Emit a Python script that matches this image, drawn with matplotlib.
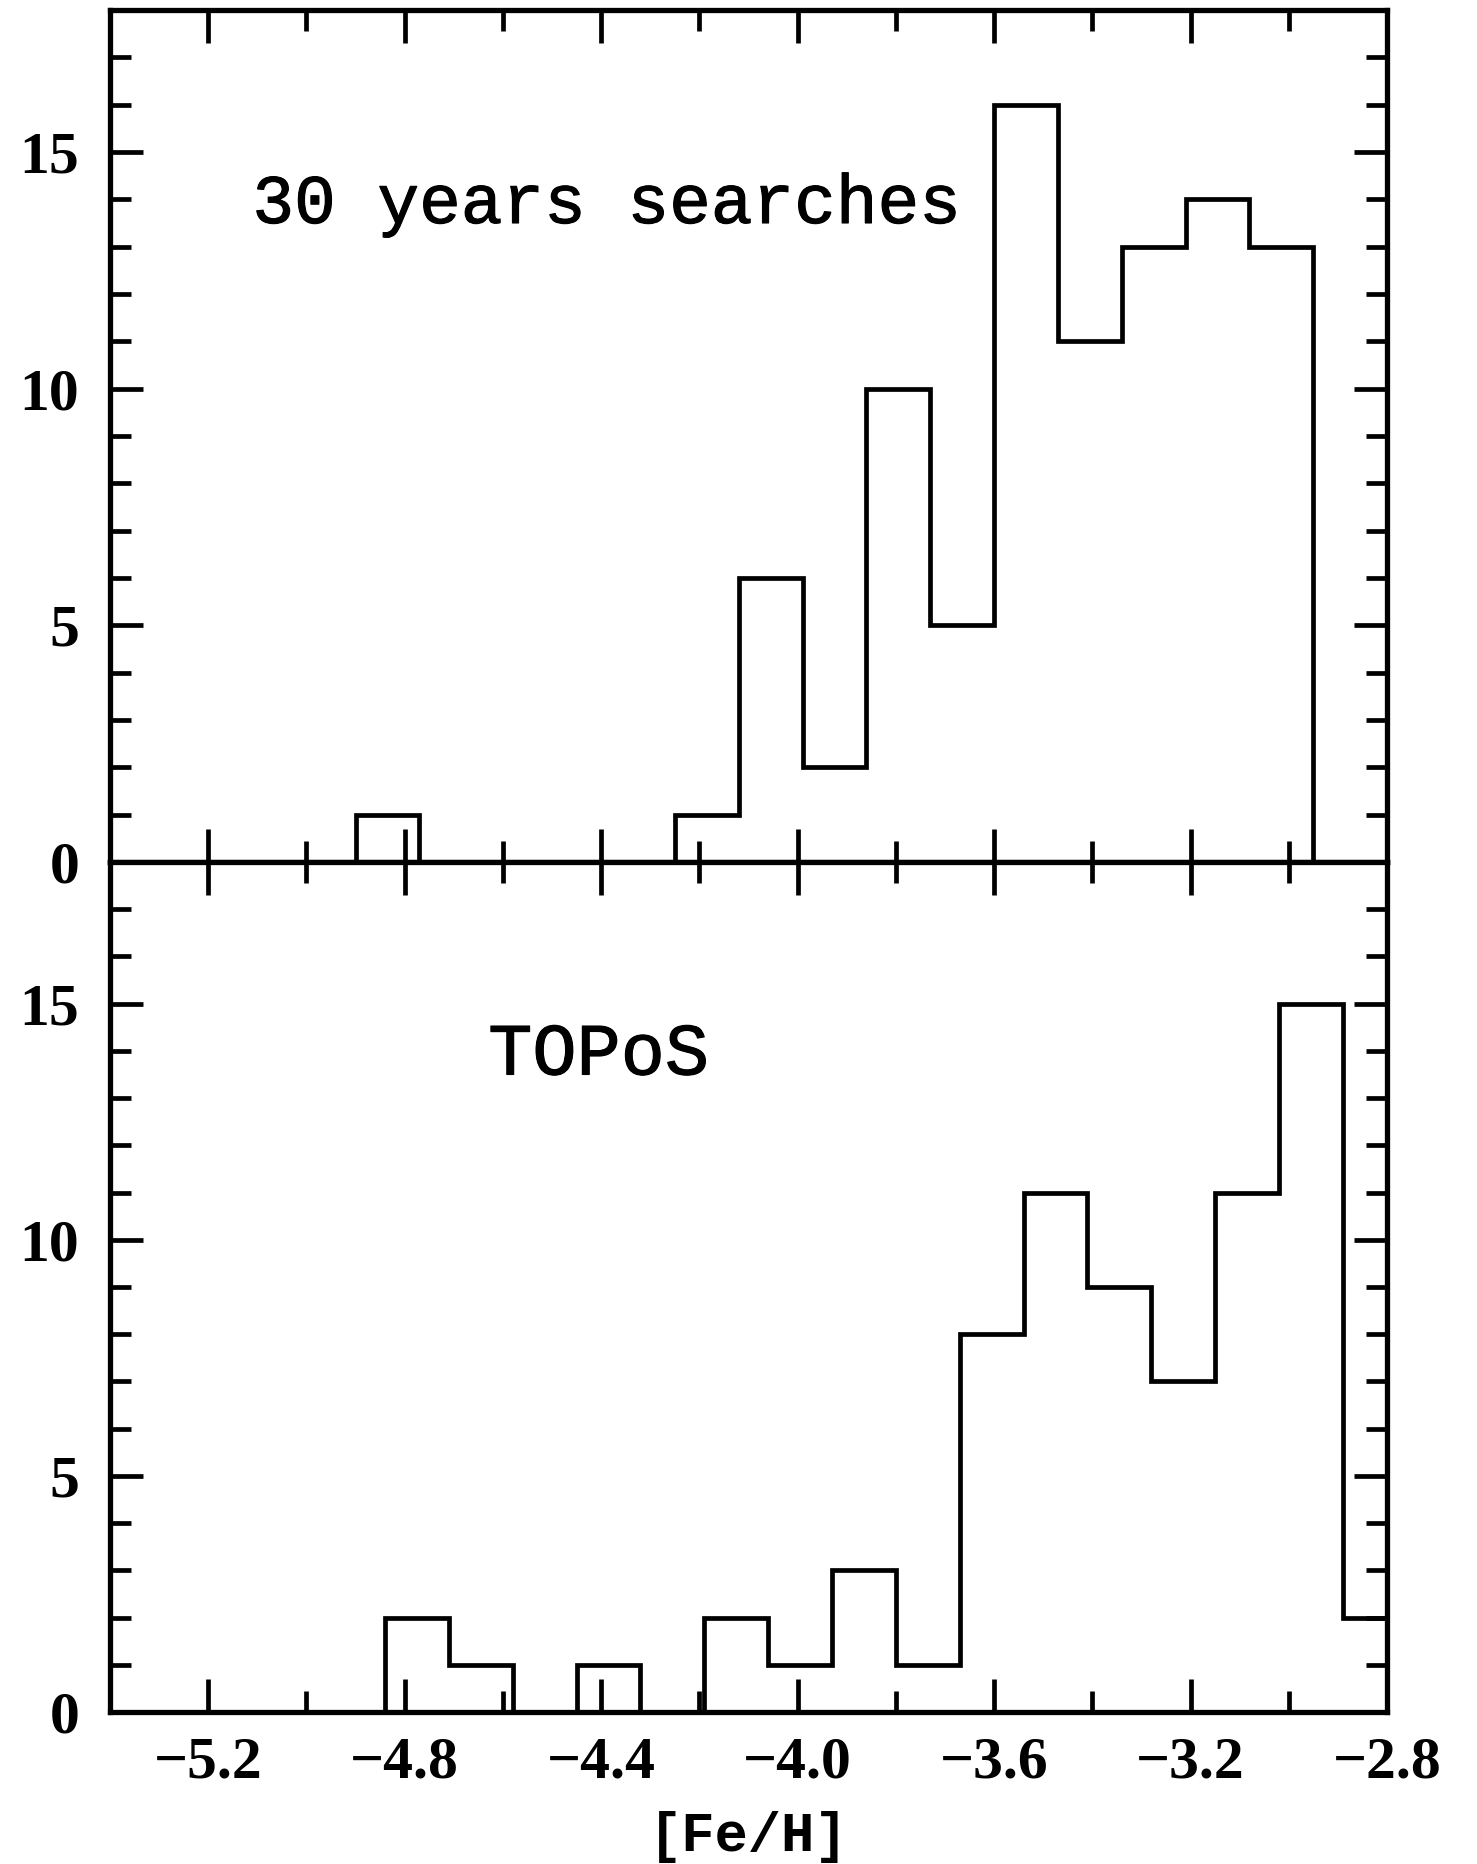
import matplotlib
matplotlib.use("Agg")
import matplotlib.pyplot as plt
import matplotlib.patheffects as pe
from matplotlib.ticker import MultipleLocator, FixedLocator

# Metallicity histograms: literature compilation vs. TOPoS sample
edges_30yr = [-4.90, -4.77, -4.64, -4.51, -4.38, -4.25, -4.12, -3.99,
              -3.86, -3.73, -3.60, -3.47, -3.34, -3.21, -3.08, -2.95]
counts_30yr = [1, 0, 0, 0, 0, 1, 6, 2, 10, 5, 16, 11, 13, 14, 13]

edges_topos = [-4.84, -4.71, -4.58, -4.45, -4.32, -4.19, -4.06, -3.93, -3.80,
               -3.67, -3.54, -3.41, -3.28, -3.15, -3.02, -2.89, -2.76]
counts_topos = [2, 1, 0, 1, 0, 2, 1, 3, 1, 8, 11, 9, 7, 11, 15, 2]

panel_labels = ["30 years searches", "TOPoS"]
x_ticks = [-5.2, -4.8, -4.4, -4.0, -3.6, -3.2, -2.8]
x_tick_labels = ["\u22125.2", "\u22124.8", "\u22124.4", "\u22124.0",
                 "\u22123.6", "\u22123.2", "\u22122.8"]
y_ticks = [0, 5, 10, 15]
y_tick_labels = ["0", "5", "10", "15"]
x_label = "[Fe/H]"

W, H = 1477, 1864
fig = plt.figure(figsize=(W / 100, H / 100), dpi=100)

left, right = 110, 1387
top, mid, bottom = 10, 862, 1712
ax1 = fig.add_axes([left / W, 1 - mid / H, (right - left) / W, (mid - top) / H])
ax2 = fig.add_axes([left / W, 1 - bottom / H, (right - left) / W, (bottom - mid) / H])

tick_font = dict(family="Liberation Serif", weight="bold", size=43)
heavier = [pe.withStroke(linewidth=0.8, foreground="black")]

for ax, edges, counts, label, lx, fs in [
    (ax1, edges_30yr, counts_30yr, panel_labels[0], -5.11, 50),
    (ax2, edges_topos, counts_topos, panel_labels[1], -4.63, 53),
]:
    ax.stairs(counts, edges, baseline=0, fill=False, color="black",
              linewidth=3.4, clip_on=True)
    ax.set_xlim(-5.4, -2.8)
    ax.set_ylim(0, 18)
    ax.xaxis.set_major_locator(FixedLocator(x_ticks))
    ax.xaxis.set_minor_locator(MultipleLocator(0.2))
    ax.yaxis.set_major_locator(FixedLocator(y_ticks))
    ax.yaxis.set_minor_locator(MultipleLocator(1))
    ax.tick_params(which="both", direction="in", top=True, right=True,
                   width=3.4, color="black")
    ax.tick_params(which="major", length=24)
    ax.tick_params(which="minor", length=15)
    ax.tick_params(axis="y", which="major", pad=22)
    ax.tick_params(axis="x", which="major", pad=18)
    ax.set_yticklabels(y_tick_labels, fontdict=tick_font)
    for sp in ax.spines.values():
        sp.set_linewidth(3.8)
    ax.text(lx, 13.5, label, ha="left", va="baseline",
            family="Liberation Mono", size=fs, path_effects=heavier)

ax1.set_xticklabels([])
ax2.set_xticklabels(x_tick_labels, fontdict=tick_font)
ax2.set_xlabel(x_label, family="Liberation Mono", weight="bold", size=40,
               labelpad=14)

fig.savefig("out.png", dpi=100)
